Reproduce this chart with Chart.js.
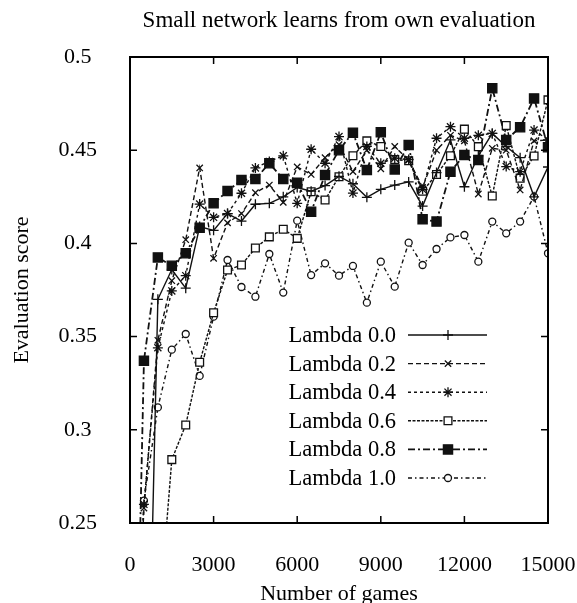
<!DOCTYPE html>
<html>
<head>
<meta charset="utf-8">
<script src="https://cdn.jsdelivr.net/npm/chart.js@4/dist/chart.umd.min.js"></script>
<style>
  body { margin: 0; background: #fff; }
  canvas { display: block; }
</style>
</head>
<body>
<canvas id="lambdaChart" width="577" height="603"></canvas>
<script>
// Number of games (x) for every sample
const games = [0, 500, 1000, 1500, 2000, 2500, 3000, 3500, 4000, 4500, 5000, 5500, 6000, 6500, 7000, 7500,
  8000, 8500, 9000, 9500, 10000, 10500, 11000, 11500, 12000, 12500, 13000, 13500, 14000, 14500, 15000];

// Evaluation score per lambda value
const lambda00 = [0.00, 0.05, 0.370, 0.386, 0.376, 0.409, 0.407, 0.416, 0.412, 0.421, 0.4215, 0.425, 0.430, 0.428, 0.431, 0.436,
  0.432, 0.4247, 0.429, 0.4313, 0.433, 0.420, 0.438, 0.4555, 0.4304, 0.447, 0.459, 0.452, 0.446, 0.425, 0.441];
const lambda02 = [0.10, 0.258, 0.348, 0.380, 0.402, 0.4405, 0.392, 0.411, 0.416, 0.4272, 0.4313, 0.422, 0.441, 0.437, 0.446, 0.453,
  0.4385, 0.450, 0.440, 0.452, 0.4447, 0.430, 0.450, 0.458, 0.455, 0.4265, 0.451, 0.450, 0.4287, 0.455, 0.4555];
const lambda04 = [0.10, 0.260, 0.344, 0.3745, 0.3827, 0.4211, 0.414, 0.416, 0.4269, 0.4405, 0.444, 0.447, 0.4215, 0.4505, 0.443, 0.4573,
  0.427, 0.452, 0.443, 0.4457, 0.445, 0.429, 0.4564, 0.4626, 0.4564, 0.458, 0.459, 0.4412, 0.4385, 0.4608, 0.4555];
const lambda06 = [0.05, 0.10, 0.19, 0.284, 0.3026, 0.3362, 0.3628, 0.3857, 0.3884, 0.3975, 0.4035, 0.4076, 0.4027, 0.4277, 0.4233, 0.4358,
  0.447, 0.455, 0.452, 0.445, 0.4443, 0.428, 0.437, 0.447, 0.4613, 0.4519, 0.4254, 0.4632, 0.435, 0.4469, 0.477];
const lambda08 = [0.00, 0.337, 0.3925, 0.388, 0.3947, 0.4084, 0.4215, 0.4281, 0.434, 0.4345, 0.443, 0.4345, 0.4326, 0.417, 0.4367, 0.450,
  0.4594, 0.4394, 0.4596, 0.4397, 0.4528, 0.4129, 0.4117, 0.4385, 0.4474, 0.4447, 0.4832, 0.4555, 0.4623, 0.4778, 0.4516];
const lambda10 = [0.10, 0.262, 0.312, 0.343, 0.3514, 0.3289, 0.3607, 0.3911, 0.3766, 0.3714, 0.3943, 0.3736, 0.4122, 0.383, 0.3893, 0.3827,
  0.3879, 0.3682, 0.3902, 0.3768, 0.4004, 0.3884, 0.397, 0.4032, 0.4045, 0.3902, 0.4117, 0.4054, 0.4117, 0.4251, 0.3947];

const seriesLabels = ['Lambda 0.0', 'Lambda 0.2', 'Lambda 0.4', 'Lambda 0.6', 'Lambda 0.8', 'Lambda 1.0'];

// Tick values and their labels
const xTicks = [0, 3000, 6000, 9000, 12000, 15000];
const xTickLabels = ['0', '3000', '6000', '9000', '12000', '15000'];
const yTicks = [0.25, 0.3, 0.35, 0.4, 0.45, 0.5];
const yTickLabels = ['0.25', '0.3', '0.35', '0.4', '0.45', '0.5'];

const chartTitle = 'Small network learns from own evaluation';

const serif = '"Liberation Serif", "Times New Roman", serif';
const ink = '#111';

function toPoints(values) {
  return values.map((v, i) => ({ x: games[i], y: v }));
}

// line / marker style of each series
const styles = [
  { dash: [], point: 'cross', radius: 5, fill: ink, width: 1.4 },
  { dash: [5, 3], point: 'crossRot', radius: 4.5, fill: ink, width: 1.4 },
  { dash: [3, 3], point: 'star', radius: 5, fill: ink, width: 1.4 },
  { dash: [3, 1.5], point: 'rect', radius: 5.5, fill: '#fff', width: 1.4 },
  { dash: [7, 3, 2, 3], point: 'rect', radius: 6.5, fill: ink, width: 1.8 },
  { dash: [4, 3, 1.5, 3], point: 'circle', radius: 3.5, fill: '#fff', width: 1.4 }
];

const allValues = [lambda00, lambda02, lambda04, lambda06, lambda08, lambda10];

const datasets = allValues.map((vals, i) => ({
  label: seriesLabels[i],
  data: toPoints(vals),
  borderColor: ink,
  borderWidth: styles[i].width,
  borderDash: styles[i].dash,
  pointStyle: styles[i].point,
  pointRadius: styles[i].radius,
  pointBackgroundColor: styles[i].fill,
  pointBorderColor: ink,
  pointBorderWidth: 1.3,
  tension: 0,
  fill: false
}));

// Frame box with gnuplot style inward ticks on all four sides, plus the title over the plot
const frameTicks = {
  id: 'frameTicks',
  afterDatasetsDraw(chart) {
    const { ctx, chartArea: a, scales: { x, y } } = chart;
    ctx.save();
    ctx.strokeStyle = '#000';
    ctx.setLineDash([]);
    ctx.lineWidth = 2;
    ctx.strokeRect(a.left, a.top, a.right - a.left, a.bottom - a.top);
    ctx.lineWidth = 1.5;
    ctx.beginPath();
    xTicks.forEach(v => {
      const px = x.getPixelForValue(v);
      ctx.moveTo(px, a.bottom); ctx.lineTo(px, a.bottom - 7);
      ctx.moveTo(px, a.top); ctx.lineTo(px, a.top + 7);
    });
    yTicks.forEach(v => {
      const py = y.getPixelForValue(v);
      ctx.moveTo(a.left, py); ctx.lineTo(a.left + 7, py);
      ctx.moveTo(a.right, py); ctx.lineTo(a.right - 7, py);
    });
    ctx.stroke();

    ctx.font = '23px ' + serif;
    ctx.fillStyle = '#000';
    ctx.textAlign = 'center';
    ctx.textBaseline = 'middle';
    ctx.fillText(chartTitle, (a.left + a.right) / 2, 21);
    ctx.restore();
  }
};

// Legend: text on the left, line sample with marker on the right
const sampleLegend = {
  id: 'sampleLegend',
  afterDraw(chart) {
    const ctx = chart.ctx;
    const a = chart.chartArea;
    const textRight = a.left + 266;
    const lineStart = a.left + 278;
    const lineEnd = a.left + 357;
    const markX = a.left + 318;
    let rowY = 335;
    ctx.save();
    chart.data.datasets.forEach(ds => {
      ctx.font = '22.5px ' + serif;
      ctx.fillStyle = '#000';
      ctx.textAlign = 'right';
      ctx.textBaseline = 'middle';
      ctx.fillText(ds.label, textRight, rowY + 1);

      ctx.strokeStyle = ink;
      ctx.lineWidth = ds.borderWidth;
      ctx.setLineDash(ds.borderDash);
      ctx.beginPath();
      ctx.moveTo(lineStart, rowY);
      ctx.lineTo(lineEnd, rowY);
      ctx.stroke();

      ctx.setLineDash([]);
      ctx.lineWidth = ds.pointBorderWidth;
      ctx.fillStyle = ds.pointBackgroundColor;
      ctx.strokeStyle = ink;
      Chart.helpers.drawPoint(ctx, {
        pointStyle: ds.pointStyle,
        radius: ds.pointRadius,
        borderWidth: ds.pointBorderWidth,
        rotation: 0
      }, markX, rowY);
      rowY += 28.6;
    });
    ctx.restore();
  }
};

new Chart(document.getElementById('lambdaChart'), {
  type: 'line',
  data: { datasets: datasets },
  options: {
    responsive: false,
    animation: false,
    devicePixelRatio: 1,
    events: [],
    layout: { padding: { left: 0, right: 29, top: 57, bottom: 0 } },
    plugins: {
      legend: { display: false },
      tooltip: { enabled: false },
      title: { display: false }
    },
    scales: {
      x: {
        type: 'linear',
        min: 0,
        max: 15000,
        afterBuildTicks: scale => { scale.ticks = xTicks.map(v => ({ value: v })); },
        afterFit: scale => {
          scale.height = 80;
          scale.paddingLeft = 0;
          scale.paddingRight = 0;
        },
        ticks: {
          color: '#000',
          font: { family: serif, size: 22 },
          padding: 21,
          maxRotation: 0,
          autoSkip: false,
          callback: (value, index) => xTickLabels[index]
        },
        grid: { display: false },
        border: { display: false },
        title: {
          display: true,
          text: 'Number of games',
          color: '#000',
          font: { family: serif, size: 22 },
          padding: { top: 0, bottom: -4 }
        }
      },
      y: {
        type: 'linear',
        min: 0.25,
        max: 0.5,
        afterBuildTicks: scale => { scale.ticks = yTicks.map(v => ({ value: v })); },
        afterFit: scale => {
          scale.width = 130;
          scale.paddingTop = 0;
          scale.paddingBottom = 0;
        },
        ticks: {
          color: '#000',
          font: { family: serif, size: 22 },
          padding: 25,
          crossAlign: 'center',
          autoSkip: false,
          callback: (value, index) => yTickLabels[index]
        },
        grid: { display: false },
        border: { display: false },
        title: {
          display: true,
          text: 'Evaluation score',
          color: '#000',
          font: { family: serif, size: 22 },
          padding: { top: 9, bottom: 0 }
        }
      }
    }
  },
  plugins: [frameTicks, sampleLegend]
});
</script>
</body>
</html>
